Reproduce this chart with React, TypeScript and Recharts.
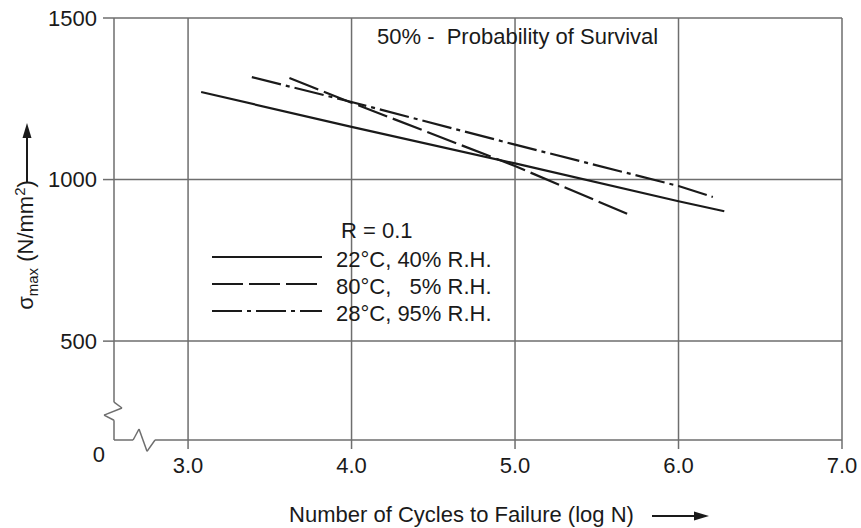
import React from 'react';
import {
  LineChart,
  Line,
  XAxis,
  YAxis,
  CartesianGrid,
  ReferenceLine,
  Legend,
} from 'recharts';

const FONT = '"Liberation Sans", Arial, Helvetica, sans-serif';
const FS = 22;
const INK = '#1a1a1a';
const GRID = '#6e6e6e';
const W = 861;
const H = 528;

// Axis extents (log N on x, stress on y; the y axis is broken at the bottom and labelled 0)
const X_MIN = 2.547;
const X_MAX = 7;
const Y_MIN = 194;
const Y_MAX = 1500;

const xTicks = [3, 4, 5, 6, 7];
const yTicks = [Y_MIN, 500, 1000, 1500];
const yGrid = [500, 1000, 1500];

// S-N curves (x = log N, y = sigma max in N/mm2)
const curve22C = [
  { x: 3.08, y: 1271 },
  { x: 4.0, y: 1163 },
  { x: 5.0, y: 1050 },
  { x: 6.0, y: 933 },
  { x: 6.28, y: 902 },
];
const curve80C = [
  { x: 3.62, y: 1314 },
  { x: 4.0, y: 1238 },
  { x: 5.0, y: 1042 },
  { x: 5.69, y: 893 },
];
const curve28C = [
  { x: 3.39, y: 1317 },
  { x: 4.0, y: 1240 },
  { x: 5.0, y: 1108 },
  { x: 6.0, y: 980 },
  { x: 6.21, y: 946 },
];

const seriesNames = ['22°C, 40% R.H.', '80°C,   5% R.H.', '28°C, 95% R.H.'];
const seriesData = [curve22C, curve80C, curve28C];
const seriesDash = [undefined, '31 6', '30 5 4 5'];

const titleText = '50% -  Probability of Survival';
const legendHeader = 'R = 0.1';

// Frame of the plot with the axis-break zigzags (in data units)
const framePath: [number, number][] = [
  [X_MIN, Y_MAX],
  [X_MIN, 311],
  [2.596, 293],
  [2.486, 271],
  [X_MIN, 255],
  [X_MIN, Y_MIN],
  [2.664, Y_MIN],
  [2.7, 228],
  [2.749, 159],
  [2.798, Y_MIN],
  [X_MAX, Y_MIN],
];

const YTick = (props: any) => {
  const { x, y, payload } = props;
  if (payload.value === Y_MIN) {
    return (
      <text x={x + 8} y={y + 22} textAnchor="end" fontSize={FS} fill={INK} fontFamily={FONT}>
        0
      </text>
    );
  }
  return (
    <g>
      <line x1={x + 6} x2={x + 17} y1={y} y2={y} stroke={GRID} strokeWidth={1.5} />
      <text x={x} y={y + 7.8} textAnchor="end" fontSize={FS} fill={INK} fontFamily={FONT}>
        {payload.value}
      </text>
    </g>
  );
};

const YLabel = () => {
  const cx = 33;
  const cy = 245;
  const ax = 27;
  return (
    <g>
      <text
        x={cx}
        y={cy}
        transform={`rotate(-90, ${cx}, ${cy})`}
        textAnchor="middle"
        fontSize={FS}
        fill={INK}
        fontFamily={FONT}
      >
        <tspan>σ</tspan>
        <tspan fontSize={15} dy={5}>max</tspan>
        <tspan dy={-5}> (N/mm</tspan>
        <tspan fontSize={15} dy={-8}>2</tspan>
        <tspan dy={8}>)</tspan>
      </text>
      <line x1={ax} x2={ax} y1={183} y2={136} stroke={INK} strokeWidth={2} />
      <polygon points={`${ax - 4.5},${138} ${ax + 4.5},${138} ${ax},${123}`} fill={INK} />
    </g>
  );
};

const XLabel = () => {
  const tx = 461.5;
  const ty = 522;
  const ay = 516;
  return (
    <g>
      <text x={tx} y={ty} textAnchor="middle" fontSize={FS} fill={INK} fontFamily={FONT}>
        Number of Cycles to Failure (log N)
      </text>
      <line x1={652} x2={696} y1={ay} y2={ay} stroke={INK} strokeWidth={2} />
      <polygon points={`694,${ay - 4.5} 694,${ay + 4.5} 709,${ay}`} fill={INK} />
    </g>
  );
};

const LegendBox = () => {
  return (
    <svg width={W} height={H} style={{ position: 'absolute', left: 0, top: 0, overflow: 'visible' }}>
      <text x={377} y={44} fontSize={FS} fill={INK} fontFamily={FONT} style={{ whiteSpace: 'pre' }}>
        {titleText}
      </text>
      <text x={341} y={238} fontSize={FS} fill={INK} fontFamily={FONT}>
        {legendHeader}
      </text>
      {seriesNames.map((name, i) => {
        const ly = 257 + i * 27;
        return (
          <g key={name}>
            <line
              x1={212}
              x2={322}
              y1={ly}
              y2={ly}
              stroke={INK}
              strokeWidth={2}
              strokeDasharray={seriesDash[i]}
            />
            <text
              x={336}
              y={ly + 10}
              fontSize={FS}
              fill={INK}
              fontFamily={FONT}
              style={{ whiteSpace: 'pre' }}
            >
              {name}
            </text>
          </g>
        );
      })}
    </svg>
  );
};

export default function App() {
  const segments = framePath.slice(1).map((p, i) => [framePath[i], p]);
  return (
    <div style={{ position: 'absolute', left: 0, top: 0, width: W, height: H }}>
      <LineChart
        width={W}
        height={H}
        margin={{ top: 18, right: 19, bottom: 0, left: 0 }}
        style={{ fontFamily: FONT }}
      >
        <CartesianGrid
          stroke={GRID}
          strokeWidth={1.5}
          horizontalValues={yGrid}
          verticalValues={xTicks}
        />
        <XAxis
          type="number"
          dataKey="x"
          domain={[X_MIN, X_MAX]}
          allowDataOverflow
          ticks={xTicks}
          interval={0}
          height={88}
          axisLine={false}
          tickLine={{ stroke: GRID, strokeWidth: 1.5 }}
          tickSize={9}
          tickMargin={8}
          tickFormatter={(v: number) => v.toFixed(1)}
          tick={{ fontSize: FS, fill: INK, fontFamily: FONT }}
          label={<XLabel />}
        />
        <YAxis
          type="number"
          dataKey="y"
          domain={[Y_MIN, Y_MAX]}
          allowDataOverflow
          ticks={yTicks}
          interval={0}
          width={114}
          axisLine={false}
          tickLine={false}
          tickSize={11}
          tickMargin={6}
          tick={<YTick />}
          label={<YLabel />}
        />
        {segments.map(([a, b], i) => (
          <ReferenceLine
            key={`frame-${i}`}
            segment={[
              { x: a[0], y: a[1] },
              { x: b[0], y: b[1] },
            ]}
            stroke={GRID}
            strokeWidth={1.5}
            ifOverflow="visible"
          />
        ))}
        {seriesNames.map((name, i) => (
          <Line
            key={name}
            name={name}
            data={seriesData[i]}
            dataKey="y"
            type="linear"
            stroke={INK}
            strokeWidth={2.2}
            strokeDasharray={seriesDash[i]}
            dot={false}
            activeDot={false}
            isAnimationActive={false}
          />
        ))}
        <Legend
          layout="horizontal"
          verticalAlign="middle"
          align="center"
          content={<LegendBox />}
          wrapperStyle={{ left: 0, top: 0, width: W, height: H, pointerEvents: 'none' }}
        />
      </LineChart>
    </div>
  );
}
